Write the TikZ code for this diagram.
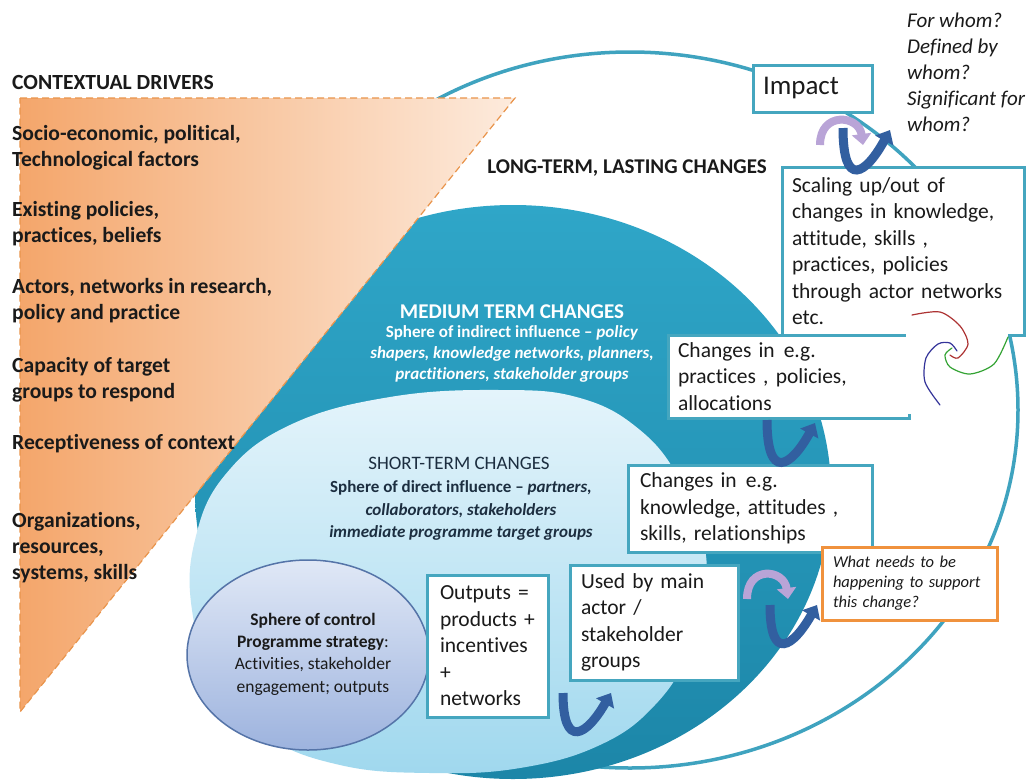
\documentclass[tikz,border=0pt]{standalone}
\usepackage{fontspec}
\setmainfont{Carlito}[Ligatures={TeX,NoCommon}]
\usetikzlibrary{arrows.meta}
\definecolor{boxteal}{HTML}{45A6BF}
\definecolor{ringteal}{HTML}{3FA3BF}
\definecolor{midteal}{HTML}{2FA6C8}
\definecolor{middark}{HTML}{1C86A8}
\definecolor{shortlight}{HTML}{E4F4FB}
\definecolor{shortdark}{HTML}{A0D8EE}
\definecolor{driverorange}{HTML}{F4A66B}
\definecolor{driverpeach}{HTML}{FDEBDD}
\definecolor{driverdash}{HTML}{E9944B}
\definecolor{askorange}{HTML}{F0923D}
\definecolor{controlfill}{HTML}{E0E8F6}
\definecolor{controldark}{HTML}{9DB3DE}
\definecolor{controledge}{HTML}{5574A8}
\definecolor{turnblue}{HTML}{325FA0}
\definecolor{turnlilac}{HTML}{B9A4D7}
\definecolor{ink}{HTML}{1A1A1A}
\definecolor{inknavy}{HTML}{1C2E40}
\tikzset{
  every picture/.style={x=1pt, y=-1pt, font=\fontsize{21.5}{26.5}\selectfont, text=ink},
  change/.style={draw=boxteal, line width=3pt, fill=white, inner xsep=10pt, inner ysep=0pt, align=left},
  ask/.style={change, draw=askorange, font=\itshape\fontsize{16.5}{20}\selectfont},
  driver/.style={anchor=west, align=left, inner sep=0pt, font=\bfseries\fontsize{21.6}{26}\selectfont},
  turn/.style={line width=9pt, turnblue, -{Triangle[length=12pt,width=20pt]}},
  lilac/.style={line width=8pt, turnlilac, -{Triangle[length=11pt,width=19pt]}},
  swirl/.style={line width=1.2pt, line cap=round},
}

\begin{document}
\begin{tikzpicture}
  \path[use as bounding box, fill=white] (0,0) rectangle (1034,780);

  % spheres of influence
  \draw[ringteal, line width=3.5pt, fill=white] (630,410) ellipse [x radius=388pt, y radius=358pt];
  \shade[top color=midteal, bottom color=middark] (513,492) ellipse [x radius=318pt, y radius=287pt];
  \shade[top color=shortlight, bottom color=shortdark] plot[smooth cycle, tension=0.7] coordinates
    {(500,390) (580,398) (640,430) (680,480) (703,540) (705,590) (690,650) (655,705) (600,745)
     (520,768) (430,773) (340,765) (265,735) (215,680) (192,610) (195,540) (225,475) (290,425) (390,397)};

  % contextual drivers wedge
  \shadedraw[left color=driverorange, right color=driverpeach, draw=driverdash,
    line width=1.2pt, dash pattern=on 7pt off 4pt] (20,98) -- (515,98) -- (20,712) -- cycle;

  \shadedraw[top color=controlfill, bottom color=controldark, draw=controledge, line width=1.5pt]
    (308,655) ellipse [x radius=121pt, y radius=95pt];

  % change boxes
  \node[change, minimum width=242pt, minimum height=168pt, text width=222pt] (scaling) at (903,251)
    {Scaling up/out of\\changes in knowledge,\\attitude, skills ,\\practices, policies\\through actor networks\\etc.};
  \node[change, minimum width=241pt, minimum height=83pt, text width=221pt] (practices) at (788.5,376.5)
    {Changes in\hspace{9pt}e.g.\\practices , policies,\\allocations};
  \node[change, minimum width=119pt, minimum height=47pt, text width=99pt,
    font=\fontsize{27}{32}\selectfont] (impact) at (812.5,88.5) {Impact};
  \node[change, inner xsep=12pt, minimum width=244pt, minimum height=87pt, text width=220pt] (knowledge) at (750,508.5)
    {Changes in\hspace{9pt}e.g.\\knowledge, attitudes ,\\skills, relationships};
  \node[change, inner xsep=11pt, minimum width=168pt, minimum height=115pt, text width=146pt] (usedby) at (654,622.5)
    {Used by main\\actor /\\stakeholder\\groups};
  \node[change, inner xsep=13pt, minimum width=121pt, minimum height=142pt, text width=95pt] (outputs) at (487.5,646)
    {Outputs =\\products +\\incentives\\+\\networks};
  \node[ask, inner xsep=11pt, minimum width=175pt, minimum height=73pt, text width=153pt] (support) at (909.5,583.5)
    {What needs to be\\happening to support\\this change?};

  % swirl
  \fill[white] (906,319) rectangle (1008,414);
  \draw[swirl, red!60!black!80] plot[smooth] coordinates {(912,315) (940,312) (960,326) (968,344) (958,358) (950,355)};
  \draw[swirl, blue!50!black!80] plot[smooth] coordinates {(940,405) (925,382) (926,358) (938,344) (950,343) (957,351)};
  \draw[swirl, green!55!black!80] plot[smooth] coordinates {(1008,337) (994,364) (970,374) (950,367) (945,355) (952,348)};

  % turning arrows
  \draw[lilac] (820,145) .. controls +(0,-34) and +(-4,-30) .. +(43,0);
  \draw[turn] (843,128) .. controls +(0,62) and +(-24,44) .. +(47,2);
  \draw[turn] (767,420) .. controls +(0,62) and +(-24,44) .. +(48,3);
  \draw[lilac] (747,599) .. controls +(0,-34) and +(-4,-30) .. +(41,0);
  \draw[turn] (770,605) .. controls +(0,58) and +(-24,42) .. +(47,0);
  \draw[turn] (563,693) .. controls +(0,58) and +(-24,42) .. +(48,0);

  % labels
  \node[driver] (drivers) at (12,82) {CONTEXTUAL DRIVERS};
  \node[driver] (socio) at (12,147.5) {Socio-economic, political,\\Technological factors};
  \node[driver] (beliefs) at (12,224) {Existing policies,\\practices, beliefs};
  \node[driver] (actors) at (12,301) {Actors, networks in research,\\policy and practice};
  \node[driver] (capacity) at (12,379.5) {Capacity of target\\groups to respond};
  \node[driver] (receptive) at (12,444) {Receptiveness of context};
  \node[driver] (orgs) at (12,547.5) {Organizations,\\resources,\\systems, skills};

  \node[font=\bfseries\fontsize{21}{26}\selectfont] (longterm) at (627,168) {LONG-TERM, LASTING CHANGES};
  \node[text=white, font=\bfseries\fontsize{21}{24}\selectfont] (midterm) at (512,312) {MEDIUM TERM CHANGES};
  \node[text=white, align=center, font=\bfseries\fontsize{17}{21}\selectfont] (indirect) at (512,354)
    {Sphere of indirect influence -- \textit{policy}\\\textit{shapers, knowledge networks, planners,}\\\textit{practitioners, stakeholder groups}};
  \node[text=inknavy, font=\fontsize{19}{22}\selectfont] (shortterm) at (459,463) {SHORT-TERM CHANGES};
  \node[text=inknavy, align=center, font=\bfseries\fontsize{17}{22.5}\selectfont] (direct) at (461,510.5)
    {Sphere of direct influence -- \textit{partners,}\\\textit{collaborators, stakeholders}\\\textit{immediate programme target groups}};
  \node[align=center, font=\fontsize{17.5}{22.3}\selectfont] (control) at (313,654)
    {\textbf{Sphere of control}\\\textbf{Programme strategy}:\\Activities, stakeholder\\engagement; outputs};
  \node[anchor=west, align=left, inner sep=0pt, font=\itshape\fontsize{21}{26}\selectfont] (whom) at (907,72)
    {For whom?\\Defined by\\whom?\\Significant for\\whom?};
\end{tikzpicture}
\end{document}
